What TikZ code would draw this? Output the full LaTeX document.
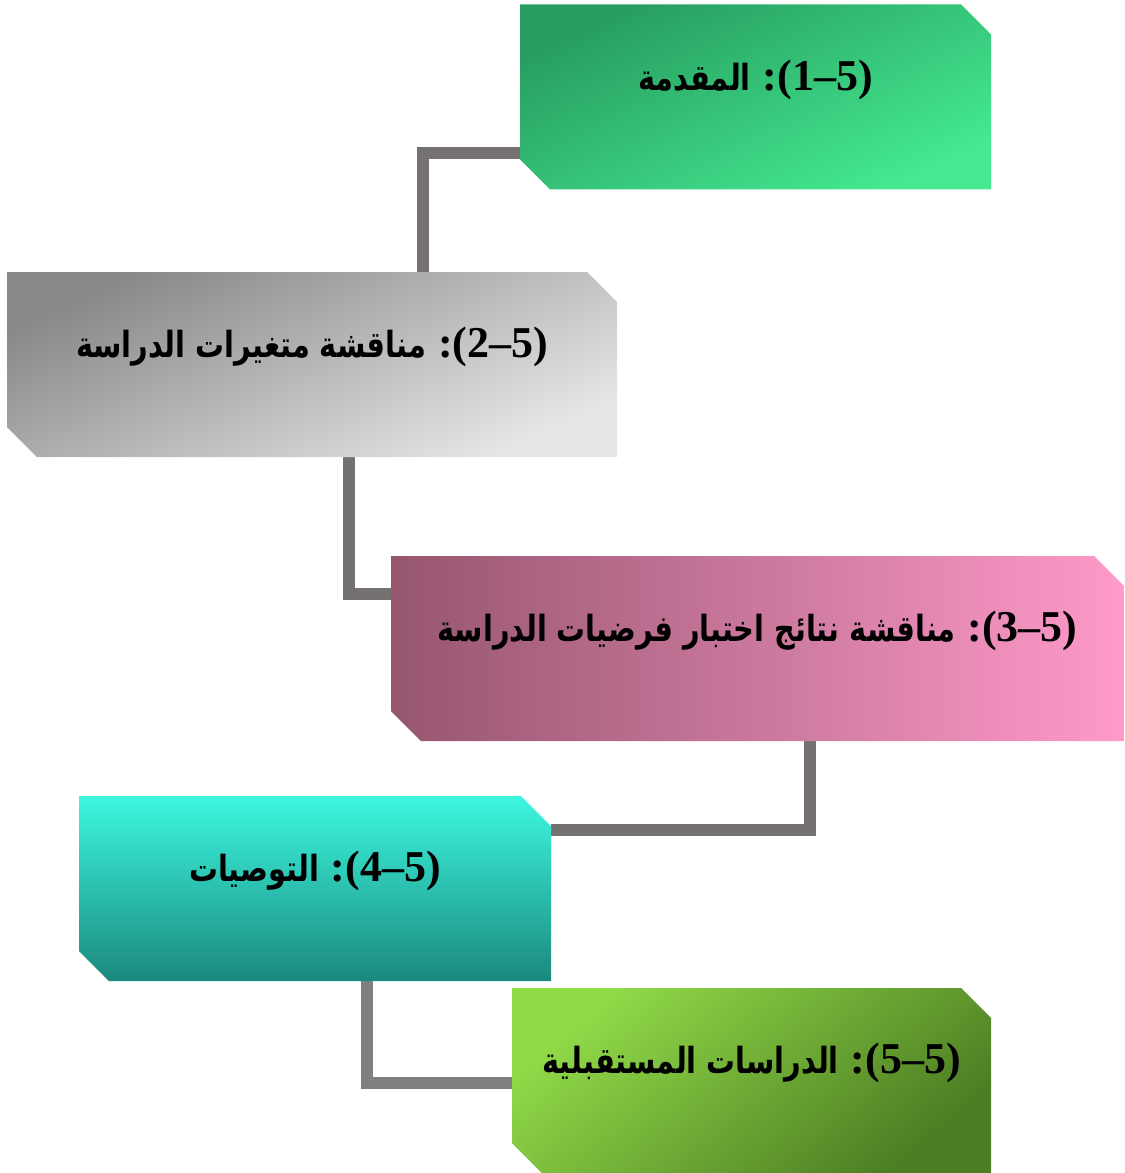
\documentclass[tikz,border=0pt]{standalone}
\usepackage{fontspec}
\TeXXeTstate=1
\newfontfamily\arabicfont[Script=Arabic,FakeStretch=0.8]{DejaVu Sans}
\newfontfamily\numfont{Liberation Serif}
\usetikzlibrary{calc}
\newdimen\upx \upx=0.75pt
\definecolor{connA}{HTML}{767171}
\definecolor{connB}{HTML}{808080}
\definecolor{gA1}{HTML}{279D5F}\definecolor{gA2}{HTML}{44E991}
\definecolor{gB1}{HTML}{888888}\definecolor{gB2}{HTML}{E6E6E6}
\definecolor{gC1}{HTML}{96566F}\definecolor{gC2}{HTML}{FF9AC9}
\definecolor{gD1}{HTML}{3CF7E0}\definecolor{gD2}{HTML}{1B897D}
\definecolor{gE1}{HTML}{91DA48}\definecolor{gE2}{HTML}{4C7D23}
\newcommand\chamf[1]{(#1.north west) -- ([xshift=-22.5pt]#1.north east) -- ([yshift=-22.5pt]#1.north east) -- (#1.south east) -- ([xshift=22.5pt]#1.south west) -- ([yshift=22.5pt]#1.south west) -- cycle}
\newcommand\boxlabel[2]{{\arabicfont\bfseries\fontsize{27}{32}\selectfont\beginR #1\endR}\hspace{9pt}{\numfont\bfseries\fontsize{33}{38}\selectfont :(#2)}}
\tikzset{
  area/.style={rectangle, inner sep=0pt, outer sep=0pt, minimum width=#1\upx, minimum height=185\upx},
  conn/.style={line width=12\upx, line join=miter, line cap=butt},
  lbl/.style={inner sep=0pt, text=black, yshift=13pt}
}
\begin{document}
\begin{tikzpicture}[x=0.75pt,y=-0.75pt]
\useasboundingbox (0,0) rectangle (1124,1173);
% invisible box areas (named)
\node[area=471] (b1) at (755.5,97) {};
\node[area=610] (b2) at (312,364.5) {};
\node[area=733] (b3) at (757.5,648.5) {};
\node[area=472] (b4) at (315,888.5) {};
\node[area=479] (b5) at (751.5,1080.5) {};
% connectors
\draw[conn, draw=connA] (b1.west |- 0,153) -| (b2.north -| 423,0);
\draw[conn, draw=connA] (b2.south -| 349,0) |- (b3.west |- 0,594);
\draw[conn, draw=connA] (b3.south -| 810,0) |- (b4.east |- 0,830);
\draw[conn, draw=connB] (b4.south -| 367,0) |- (b5.west |- 0,1083);
% shaded boxes
\shade[top color=gA1, bottom color=gA2, shading angle=25] \chamf{b1};
\shade[top color=gB1, bottom color=gB2, shading angle=25] \chamf{b2};
\shade[left color=gC1, right color=gC2] \chamf{b3};
\shade[top color=gD1, bottom color=gD2] \chamf{b4};
\shade[top color=gE1, bottom color=gE2, shading angle=40] \chamf{b5};
% labels
\node[lbl] (t1) at (b1.center) {\boxlabel{المقدمة}{1–5}};
\node[lbl] (t2) at (b2.center) {\boxlabel{مناقشة متغيرات الدراسة}{2–5}};
\node[lbl] (t3) at (b3.center) {\boxlabel{مناقشة نتائج اختبار فرضيات الدراسة}{3–5}};
\node[lbl] (t4) at (b4.center) {\boxlabel{التوصيات}{4–5}};
\node[lbl] (t5) at (b5.center) {\boxlabel{الدراسات المستقبلية}{5–5}};
\end{tikzpicture}
\end{document}
